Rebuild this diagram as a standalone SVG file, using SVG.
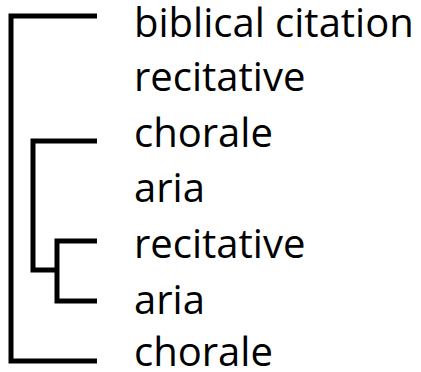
<svg xmlns="http://www.w3.org/2000/svg" width="421" height="372" viewBox="0 0 421 372">
<style>
.lbl{font-family:"Open Sans","Noto Sans","Liberation Sans",sans-serif;font-size:40px;fill:#000}
.br{fill:none;stroke:#000;stroke-width:5;stroke-linejoin:miter;stroke-linecap:butt}
</style>
<rect width="421" height="372" fill="#fff"/>
<g id="connectors">
<path class="br" d="M97,16 H11 V361 H97"/>
<path class="br" d="M97,141 H33 V270 H57"/>
<path class="br" d="M97,241 H57 V301 H97"/>
</g>
<g id="n1"><text class="lbl" x="134" y="37">biblical citation</text></g>
<g id="n2"><text class="lbl" x="134" y="91">recitative</text></g>
<g id="n3"><text class="lbl" x="134" y="147">chorale</text></g>
<g id="n4"><text class="lbl" x="134" y="202">aria</text></g>
<g id="n5"><text class="lbl" x="134" y="258">recitative</text></g>
<g id="n6"><text class="lbl" x="134" y="314">aria</text></g>
<g id="n7"><text class="lbl" x="134" y="366">chorale</text></g>
</svg>
